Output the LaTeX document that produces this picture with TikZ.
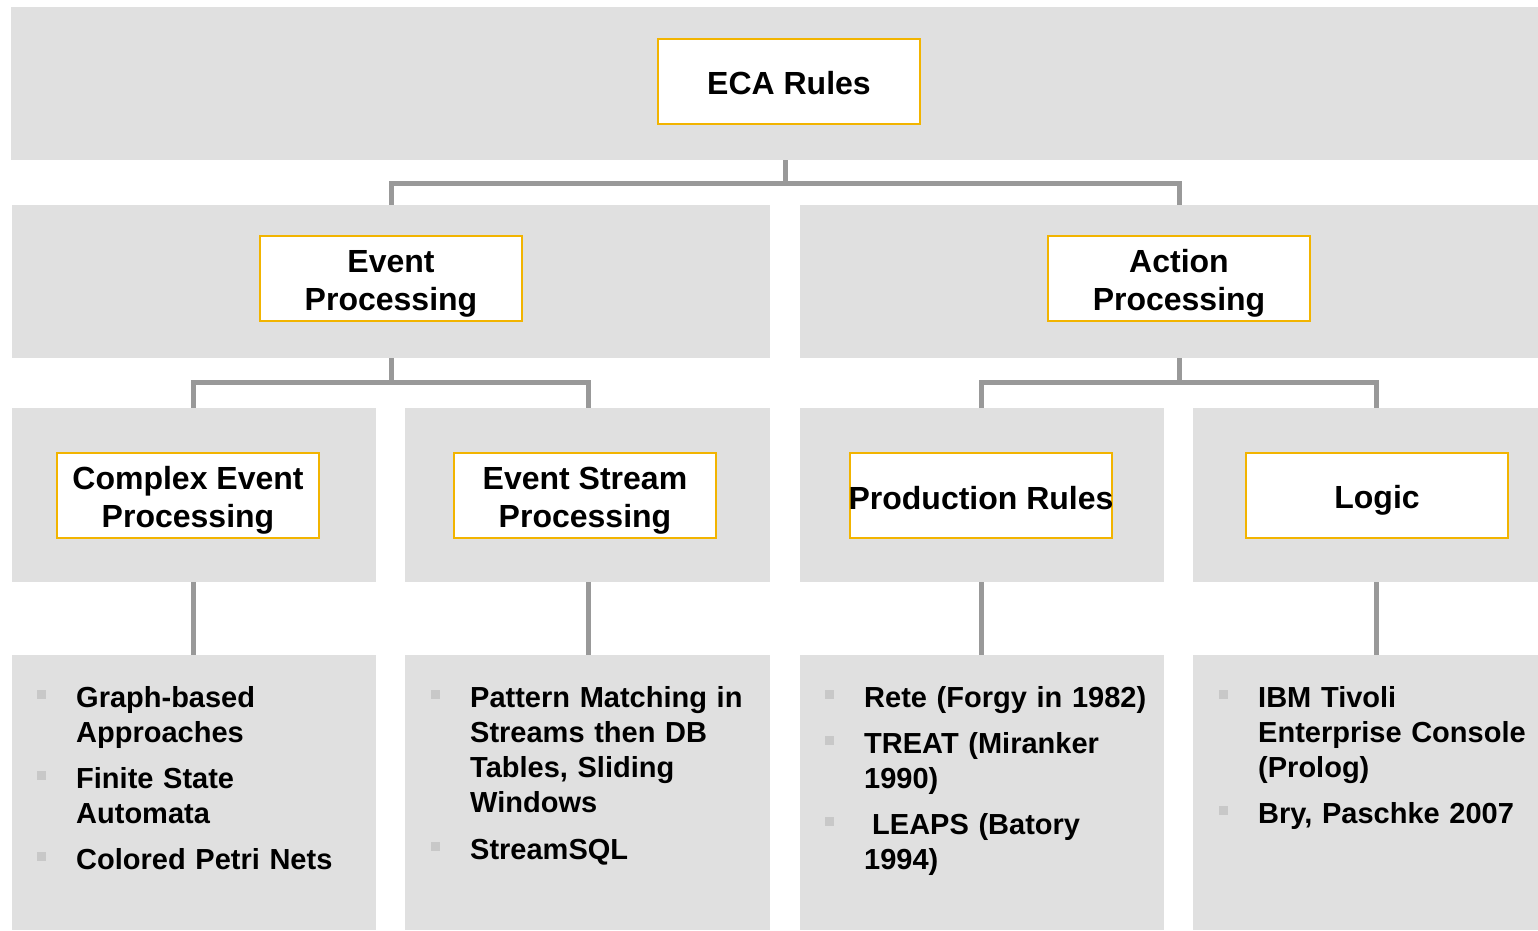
\documentclass[tikz,border=0pt]{standalone}
\usepackage{fontspec}
\setmainfont{Liberation Sans}
\usetikzlibrary{fit}
\definecolor{bandgray}{RGB}{224,224,224}
\definecolor{conngray}{RGB}{153,153,153}
\definecolor{boxorange}{RGB}{242,180,0}
\definecolor{bulletgray}{RGB}{200,200,200}
\begin{document}
\begin{tikzpicture}[x=1pt,y=-1pt,
  band/.style={fill=bandgray, draw=none, inner sep=0pt},
  box/.style={fill=white, draw=boxorange, line width=1.2pt, inner sep=0pt,
    minimum width=262pt, minimum height=85pt},
  title/.style={inner sep=0pt, align=center, font=\fontsize{32}{38}\selectfont\bfseries},
  conn/.style={draw=conngray, line width=5pt},
  item/.style={anchor=base west, inner sep=0pt, text width=320pt, align=left,
    font=\fontsize{29}{35}\selectfont\bfseries},
  bullet/.style={fill=bulletgray, draw=none, minimum size=9pt, inner sep=0pt}]
\useasboundingbox (0,0) rectangle (1538,930);
% bands
\node[band, fit={(11,7)(1538,160)}] (b0) {};
\node[band, fit={(12,205)(770,358)}] (b1) {};
\node[band, fit={(800,205)(1538,358)}] (b2) {};
\node[band, fit={(12,408)(376,582)}] (b3a) {};
\node[band, fit={(405,408)(770,582)}] (b3b) {};
\node[band, fit={(800,408)(1164,582)}] (b3c) {};
\node[band, fit={(1193,408)(1538,582)}] (b3d) {};
\node[band, fit={(12,655)(376,930)}] (b4a) {};
\node[band, fit={(405,655)(770,930)}] (b4b) {};
\node[band, fit={(800,655)(1164,930)}] (b4c) {};
\node[band, fit={(1193,655)(1538,930)}] (b4d) {};
% boxes
\node[box] (eca) at (789,81.5) {};
\node[title] (ecat) at ([yshift=-2pt]eca.center) {ECA Rules};
\node[box] (ep) at (391,278.5) {};
\node[title] (ept) at ([yshift=-5pt]ep.center) {Event\\Processing};
\node[box] (ap) at (1179,278.5) {};
\node[title] (apt) at ([yshift=-5pt]ap.center) {Action\\Processing};
\node[box] (cep) at (188,495.5) {};
\node[title] (cept) at ([yshift=-5pt]cep.center) {Complex Event\\Processing};
\node[box] (esp) at (585,495.5) {};
\node[title] (espt) at ([yshift=-5pt]esp.center) {Event Stream\\Processing};
\node[box] (pr) at (981,495.5) {};
\node[title] (prt) at ([yshift=-3pt]pr.center) {Production Rules};
\node[box] (lg) at (1377,495.5) {};
\node[title] (lgt) at ([yshift=-5pt]lg.center) {Logic};
% connector columns
\coordinate (j0) at (785,0);
\coordinate (c1) at (193,0);
\coordinate (c2) at (588,0);
\coordinate (c3) at (981,0);
\coordinate (c4) at (1376,0);
\draw[conn] (b0.south -| j0) -- ++(0,23) -| (b1.north -| ep.center);
\draw[conn] (b0.south -| j0) -- ++(0,23) -| (b2.north -| ap.center);
\draw[conn] (b1.south -| ep.center) -- ++(0,24) -| (b3a.north -| c1);
\draw[conn] (b1.south -| ep.center) -- ++(0,24) -| (b3b.north -| c2);
\draw[conn] (b2.south -| ap.center) -- ++(0,24) -| (b3c.north -| c3);
\draw[conn] (b2.south -| ap.center) -- ++(0,24) -| (b3d.north -| c4);
\draw[conn] (b3a.south -| c1) -- (b4a.north -| c1);
\draw[conn] (b3b.south -| c2) -- (b4b.north -| c2);
\draw[conn] (b3c.south -| c3) -- (b4c.north -| c3);
\draw[conn] (b3d.south -| c4) -- (b4d.north -| c4);
% column 1
\node[bullet] (u1a) at (41.5,694.5) {};
\node[item] (t1a) at (76,707.5) {Graph-based\\Approaches};
\node[bullet] (u1b) at (41.5,775.5) {};
\node[item] (t1b) at (76,788.5) {Finite State\\Automata};
\node[bullet] (u1c) at (41.5,856.5) {};
\node[item] (t1c) at (76,869.5) {Colored Petri Nets};
% column 2
\node[bullet] (u2a) at (435.5,694.5) {};
\node[item] (t2a) at (470,707.5) {Pattern Matching in\\Streams then DB\\Tables, Sliding\\Windows};
\node[bullet] (u2b) at (435.5,846.5) {};
\node[item] (t2b) at (470,859.5) {StreamSQL};
% column 3
\node[bullet] (u3a) at (829.5,694.5) {};
\node[item] (t3a) at (864,707.5) {Rete (Forgy in 1982)};
\node[bullet] (u3b) at (829.5,740.5) {};
\node[item] (t3b) at (864,753.5) {TREAT (Miranker\\1990)};
\node[bullet] (u3c) at (829.5,821.5) {};
\node[item] (t3c) at (864,834.5) {\hspace*{8pt}LEAPS (Batory\\1994)};
% column 4
\node[bullet] (u4a) at (1223.5,694.5) {};
\node[item] (t4a) at (1258,707.5) {IBM Tivoli\\Enterprise Console\\(Prolog)};
\node[bullet] (u4b) at (1223.5,810.5) {};
\node[item] (t4b) at (1258,823.5) {Bry, Paschke 2007};
\end{tikzpicture}
\end{document}
